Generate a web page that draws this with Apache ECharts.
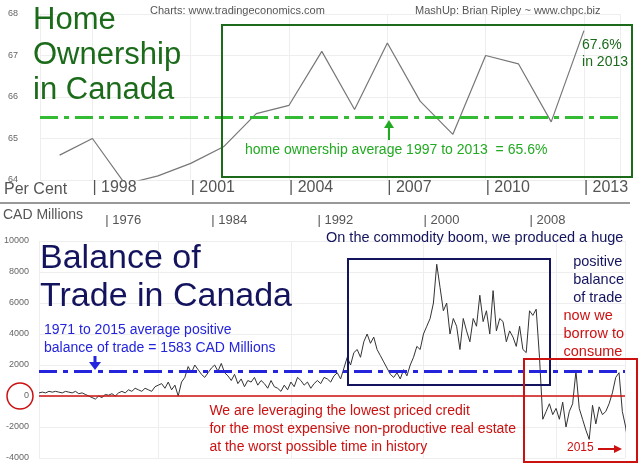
<!DOCTYPE html>
<html><head><meta charset="utf-8">
<script src="https://cdn.jsdelivr.net/npm/echarts@6/dist/echarts.min.js"></script>
<style>html,body{margin:0;background:#fff}#c{width:640px;height:466px}</style>
</head><body><div id="c"></div>
<script>
// Home ownership, per cent
const ownYears = [1997,1998,1999,2000,2001,2002,2003,2004,2005,2006,2007,2008,2009,2010,2011,2012,2013];
const ownRate = [64.6,65.0,63.9,64.1,64.4,64.8,65.6,65.8,67.1,65.7,67.3,65.9,65.1,67.0,66.8,65.4,67.6];
const ownAvg = 65.52;
const ownTicks = [1998,2001,2004,2007,2010,2013];

// Balance of trade, CAD millions, quarterly from 1971
const tradeStart = 1971;
const tradeValues = [
  200,250,200,300, 250,300,250,200, 300,250,200,300, 150,200,100,0,
  -100,-200,0,-100, 100,50,150,0, 200,300,200,400, 300,500,400,300,
  500,400,300,600, 700,800,500,900, 400,700,0,900, 1200,1900,1500,2000,
  1700,1400,1200,1500, 1800,2000,1600,2100, 1500,1300,1000,1400, 800,1100,600,1000,
  900,1200,700,1000, 800,500,1000,600, 500,300,700,400, 900,600,1200,1000,
  700,900,500,800, 1000,800,1200,1100, 900,1300,1500,1100, 1800,2500,2000,2800,
  3000,2500,3500,4000, 3400,3800,3000,2600, 2200,1800,1400,1200, 1500,1100,1700,1300,
  2000,2500,3200,3000, 4000,4500,5000,6000, 8500,7000,5500,6000, 4000,5000,4500,3000,
  5000,4200,3500,5000, 4500,6500,4800,5500, 4000,6800,4200,5000, 4800,3500,4200,3800,
  3200,4500,3000,2800, 5500,5200,5600,2500, -1500,-1000,-500,-1200, -800,-1500,-400,-2000,
  -1000,-500,1600,-800, -1500,-2200,-2800,-600, -1800,-700,-1200,-1000, -500,200,1200,1500,
  -1000,-2000,-3500,-3800
];
const tradeAvg = 1583;
const tradeTicks = [1976,1984,1992,2000,2008];

const chart = echarts.init(document.getElementById('c'));
const green = '#1b6b1b', navy = '#14145e', blue = '#2424dd', red = '#cc1111';
const font = 'Liberation Sans, Arial, sans-serif';

function txt(pos, text, fill, size, extra) {
  return Object.assign({ type: 'text', z: 100 }, pos, {
    style: Object.assign({ text: text, fill: fill, font: size + 'px ' + font }, extra || {})
  });
}

chart.setOption({
  animation: false,
  textStyle: { fontFamily: font },
  grid: [
    { left: 40, right: 20, top: 14, height: 166 },
    { left: 39, right: 15, top: 241, bottom: 8 }
  ],
  xAxis: [
    { gridIndex: 0, type: 'value', min: 1996.4, max: 2014.1,
      splitLine: { show: true, lineStyle: { color: '#eee' } },
      axisLine: { show: false }, axisTick: { show: false },
      axisLabel: { customValues: ownTicks, formatter: v => '| ' + v, align: 'left',
        color: '#555', fontSize: 16, margin: 0 } },
    { gridIndex: 1, type: 'value', min: tradeStart, max: 2015.2, position: 'top',
      splitLine: { show: true, lineStyle: { color: '#eee' } },
      axisLine: { show: false }, axisTick: { show: false },
      axisLabel: { customValues: tradeTicks, formatter: v => '| ' + v, align: 'left',
        color: '#555', fontSize: 13, margin: 14 } }
  ],
  yAxis: [
    { gridIndex: 0, type: 'value', min: 64, max: 68, interval: 1,
      axisLine: { show: false }, axisTick: { show: false },
      splitLine: { lineStyle: { color: '#eee' } },
      axisLabel: { color: '#666', fontSize: 9, margin: 22 } },
    { gridIndex: 1, type: 'value', min: -4000, max: 10000, interval: 2000,
      axisLine: { show: false }, axisTick: { show: false },
      splitLine: { lineStyle: { color: '#eee' } },
      axisLabel: { color: '#666', fontSize: 9, margin: 10, formatter: v => String(v) } }
  ],
  series: [
    { type: 'line', xAxisIndex: 0, yAxisIndex: 0, symbol: 'none',
      lineStyle: { color: '#777', width: 1.2 },
      data: ownYears.map((y, i) => [y, ownRate[i]]),
      markLine: { symbol: 'none', silent: true, label: { show: false },
        lineStyle: { color: '#33bb33', width: 3, type: [18, 6, 5, 6] },
        data: [{ yAxis: ownAvg }] } },
    { type: 'line', xAxisIndex: 1, yAxisIndex: 1, symbol: 'none',
      lineStyle: { color: '#333', width: 1 },
      data: tradeValues.map((v, i) => [tradeStart + i / 4, v]),
      markLine: { symbol: 'none', silent: true, label: { show: false },
        data: [
          { yAxis: tradeAvg, lineStyle: { color: blue, width: 3, type: [18, 6, 5, 6] } },
          { yAxis: 0, lineStyle: { color: red, width: 1.5, type: 'solid' } }
        ] } }
  ],
  graphic: [
    { type: 'line', z: 100, shape: { x1: 0, y1: 203, x2: 630, y2: 203 }, style: { stroke: '#999', lineWidth: 2 } },
    txt({ left: 4, top: 182 }, 'Per Cent', '#555', 16),
    txt({ left: 3, top: 208 }, 'CAD Millions', '#555', 14),
    { type: 'rect', z: 100, shape: { x: 222, y: 25, width: 410, height: 152 }, style: { fill: 'none', stroke: green, lineWidth: 2 } },
    txt({ left: 33, top: 3 }, 'Home\nOwnership\nin Canada', green, 31, { lineHeight: 35 }),
    txt({ left: 150, top: 5 }, 'Charts: www.tradingeconomics.com', '#555', 11),
    txt({ left: 415, top: 5 }, 'MashUp: Brian Ripley ~ www.chpc.biz', '#555', 11),
    txt({ right: 12, top: 37 }, '67.6%\nin 2013', green, 14, { align: 'right', lineHeight: 17 }),
    txt({ left: 245, top: 143 }, 'home ownership average 1997 to 2013  = 65.6%', '#22aa22', 14),
    { type: 'line', z: 100, shape: { x1: 389, y1: 140, x2: 389, y2: 126 }, style: { stroke: '#22aa22', lineWidth: 2 } },
    { type: 'polygon', z: 100, shape: { points: [[384, 128], [394, 128], [389, 120]] }, style: { fill: '#22aa22' } },
    txt({ left: 40, top: 240 }, 'Balance of\nTrade in Canada', navy, 34, { lineHeight: 38 }),
    txt({ left: 44, top: 321 }, '1971 to 2015 average positive\nbalance of trade = 1583 CAD Millions', blue, 14, { lineHeight: 18 }),
    { type: 'polygon', z: 100, shape: { points: [[89, 362], [101, 362], [95, 370]] }, style: { fill: blue } },
    { type: 'line', z: 100, shape: { x1: 95, y1: 356, x2: 95, y2: 364 }, style: { stroke: blue, lineWidth: 3 } },
    { type: 'rect', z: 100, shape: { x: 348, y: 259, width: 202, height: 126 }, style: { fill: 'none', stroke: navy, lineWidth: 2 } },
    txt({ left: 326, top: 230 }, 'On the commodity boom, we produced a huge', navy, 14.5),
    txt({ right: 16, top: 253 }, 'positive\nbalance\nof trade', navy, 14.5, { align: 'right', lineHeight: 18 }),
    txt({ right: 16, top: 307 }, 'now we\nborrow to\nconsume', red, 14.5, { align: 'right', lineHeight: 18 }),
    { type: 'rect', z: 100, shape: { x: 524, y: 359, width: 113, height: 103 }, style: { fill: 'none', stroke: red, lineWidth: 2 } },
    txt({ right: 124, top: 402 }, 'We are leveraging the lowest priced credit\nfor the most expensive non-productive real estate\nat the worst possible time in history', red, 14, { align: 'right', lineHeight: 18 }),
    txt({ left: 567, top: 442 }, '2015', red, 12),
    { type: 'line', z: 100, shape: { x1: 598, y1: 449, x2: 618, y2: 449 }, style: { stroke: red, lineWidth: 2 } },
    { type: 'polygon', z: 100, shape: { points: [[614, 445], [622, 449], [614, 453]] }, style: { fill: red } },
    { type: 'circle', z: 100, shape: { cx: 20, cy: 396, r: 13 }, style: { fill: 'none', stroke: red, lineWidth: 1.5 } }
  ]
});
</script></body></html>
